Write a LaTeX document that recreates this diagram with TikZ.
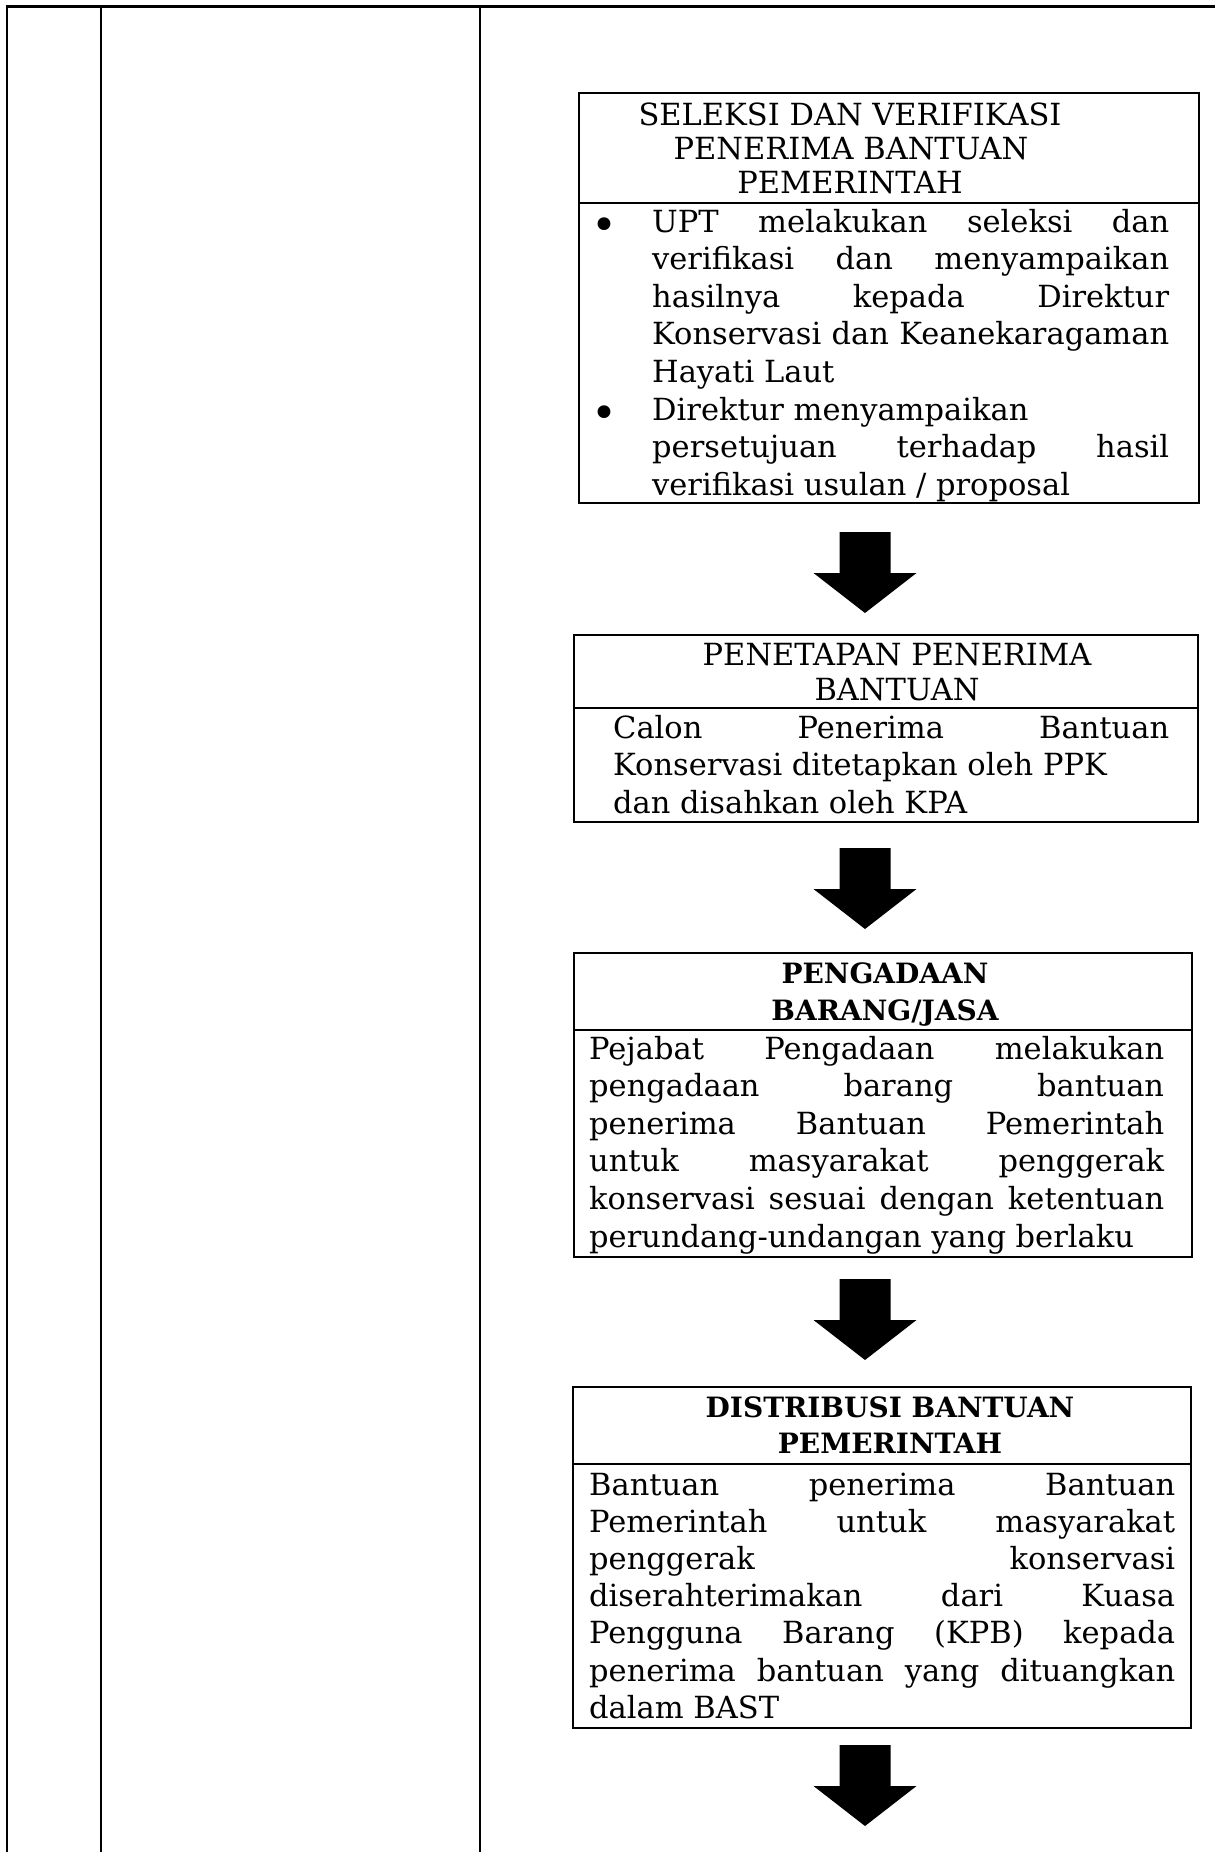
\documentclass[tikz,border=0pt]{standalone}
\usepackage{fontspec}
\setmainfont{DejaVu Serif}
\newcommand\bodyf{\fontsize{30.5}{36}\selectfont}
\newcommand\boldf{\fontsize{28}{34}\selectfont\bfseries}
\newcommand\bulf{\fontsize{44}{44}\selectfont}
\newcommand\jl[2]{\makebox[#1pt][s]{#2}}
\begin{document}
\begin{tikzpicture}[x=1pt,y=-1pt,
  tbl/.style={line width=2.5pt},
  boxline/.style={line width=1.8pt},
  box/.style={draw,line width=1.8pt,inner sep=0pt},
  tx/.style={inner sep=0pt,anchor=base west,font=\bodyf},
  bul/.style={inner sep=0pt,anchor=base,font=\bulf},
  hd/.style={inner sep=0pt,anchor=base,font=\bodyf},
  hdb/.style={inner sep=0pt,anchor=base,font=\boldf},
  downarr/.pic={\fill (-25.5,0) -- (25.5,0) -- (25.5,41) -- (51.5,41) -- (0,81) -- (-51.5,41) -- (-25.5,41) -- cycle;}]
\useasboundingbox (0,0) rectangle (1215,1852);
% table frame
\coordinate (t0) at (7,6.5);
\coordinate (t1) at (101,6.5);
\coordinate (t2) at (480,6.5);
\coordinate (tr) at (1215,6.5);
\coordinate (u0) at (7,1852);
\coordinate (u1) at (101,1852);
\coordinate (u2) at (480,1852);
\draw[tbl] (u0) -- (t0) -- (tr);
\draw[tbl] (t1) -- (u1);
\draw[tbl] (t2) -- (u2);
% boxes
\node[box,minimum width=620pt,minimum height=410pt] (b1) at (889,298) {};
\node[box,minimum width=624pt,minimum height=187pt] (b2) at (886,728.5) {};
\node[box,minimum width=618pt,minimum height=304pt] (b3) at (883,1105) {};
\node[box,minimum width=618pt,minimum height=341pt] (b4) at (882,1557.5) {};
\coordinate (s1) at (0,203);
\coordinate (s2) at (0,708);
\coordinate (s3) at (0,1030);
\coordinate (s4) at (0,1464);
\draw[boxline] (b1.west |- s1) -- (b1.east |- s1);
\draw[boxline] (b2.west |- s2) -- (b2.east |- s2);
\draw[boxline] (b3.west |- s3) -- (b3.east |- s3);
\draw[boxline] (b4.west |- s4) -- (b4.east |- s4);
% arrows
\pic at (865,532) {downarr};
\pic at (865,848) {downarr};
\pic at (865,1279) {downarr};
\pic at (865,1745) {downarr};
% box 1
\node[hd] (b1h1) at (850,125) {SELEKSI DAN VERIFIKASI};
\node[hd] (b1h2) at (851,159) {PENERIMA BANTUAN};
\node[hd] (b1h3) at (850,193) {PEMERINTAH};
\node[bul] (bu1) at (604,240) {•};
\node[bul] (bu2) at (604,428) {•};
\node[tx] (b1l1) at (652,232) {\jl{517}{UPT melakukan seleksi dan}};
\node[tx] (b1l2) at (652,269.6) {\jl{517}{verifikasi dan menyampaikan}};
\node[tx] (b1l3) at (652,307.2) {\jl{517}{hasilnya kepada Direktur}};
\node[tx] (b1l4) at (652,344.8) {\jl{517}{Konservasi dan Keanekaragaman}};
\node[tx] (b1l5) at (652,382.4) {Hayati Laut};
\node[tx] (b1l6) at (652,420) {Direktur menyampaikan};
\node[tx] (b1l7) at (652,457.6) {\jl{517}{persetujuan terhadap hasil}};
\node[tx] (b1l8) at (652,495.2) {verifikasi usulan / proposal};
% box 2
\node[hd] (b2h1) at (897,665) {PENETAPAN PENERIMA};
\node[hd] (b2h2) at (897,700) {BANTUAN};
\node[tx] (b2l1) at (613,738) {\jl{556}{Calon Penerima Bantuan}};
\node[tx] (b2l2) at (613,775.5) {Konservasi ditetapkan oleh PPK};
\node[tx] (b2l3) at (613,813) {dan disahkan oleh KPA};
% box 3
\node[hdb] (b3h1) at (885,983) {PENGADAAN};
\node[hdb] (b3h2) at (885,1020) {BARANG/JASA};
\node[tx] (b3l1) at (589,1059) {\jl{575}{Pejabat Pengadaan melakukan}};
\node[tx] (b3l2) at (589,1096.6) {\jl{575}{pengadaan barang bantuan}};
\node[tx] (b3l3) at (589,1134.2) {\jl{575}{penerima Bantuan Pemerintah}};
\node[tx] (b3l4) at (589,1171.8) {\jl{575}{untuk masyarakat penggerak}};
\node[tx] (b3l5) at (589,1209.4) {\jl{575}{konservasi sesuai dengan ketentuan}};
\node[tx] (b3l6) at (589,1247) {perundang-undangan yang berlaku};
% box 4
\node[hdb] (b4h1) at (890,1417) {DISTRIBUSI BANTUAN};
\node[hdb] (b4h2) at (890,1453) {PEMERINTAH};
\node[tx] (b4l1) at (589,1495) {\jl{586}{Bantuan penerima Bantuan}};
\node[tx] (b4l2) at (589,1532.2) {\jl{586}{Pemerintah untuk masyarakat}};
\node[tx] (b4l3) at (589,1569.4) {\jl{586}{penggerak konservasi}};
\node[tx] (b4l4) at (589,1606.6) {\jl{586}{diserahterimakan dari Kuasa}};
\node[tx] (b4l5) at (589,1643.8) {\jl{586}{Pengguna Barang (KPB) kepada}};
\node[tx] (b4l6) at (589,1681) {\jl{586}{penerima bantuan yang dituangkan}};
\node[tx] (b4l7) at (589,1718.2) {dalam BAST};
\end{tikzpicture}
\end{document}
